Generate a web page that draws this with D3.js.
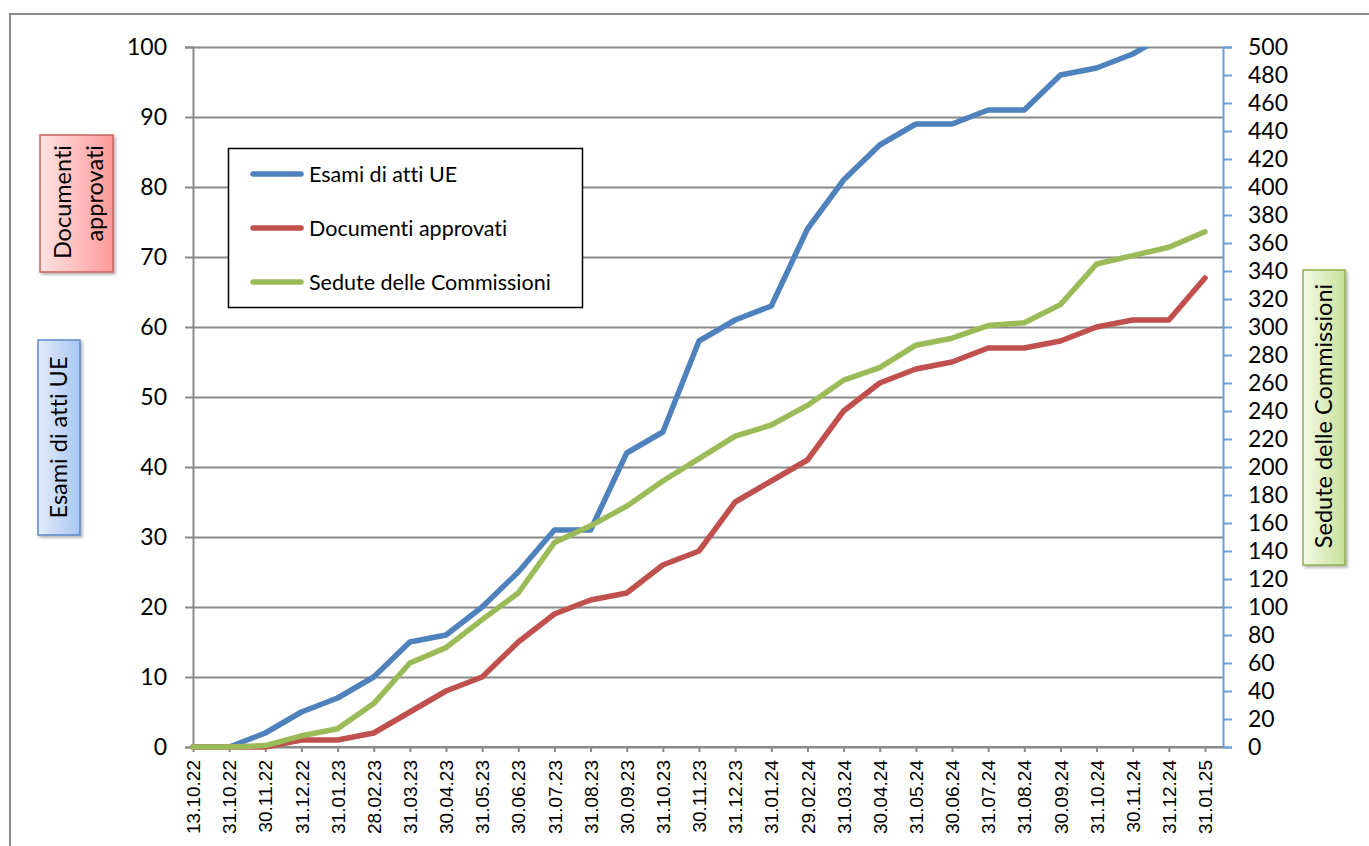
<!DOCTYPE html>
<html>
<head>
<meta charset="utf-8">
<script src="https://cdn.jsdelivr.net/npm/d3@7"></script>
<style>
  html, body { margin: 0; padding: 0; background: #fff; }
  svg { display: block; }
  text { font-variant-ligatures: none; font-feature-settings: "liga" 0; }
</style>
</head>
<body>
<svg id="chart" width="1369" height="846"></svg>
<script>
const categories = ["13.10.22","31.10.22","30.11.22","31.12.22","31.01.23","28.02.23","31.03.23","30.04.23","31.05.23","30.06.23","31.07.23","31.08.23","30.09.23","31.10.23","30.11.23","31.12.23","31.01.24","29.02.24","31.03.24","30.04.24","31.05.24","30.06.24","31.07.24","31.08.24","30.09.24","31.10.24","30.11.24","31.12.24","31.01.25"];
const esami     = [0,0,2,5,7,10,15,16,20,25,31,31,42,45,58,61,63,74,81,86,89,89,91,91,96,97,99,102,104];
const documenti = [0,0,0,1,1,2,5,8,10,15,19,21,22,26,28,35,38,41,48,52,54,55,57,57,58,60,61,61,67];
const sedute    = [0,0,1,8,13,31,60,71,91,110,146,158,172,190,206,222,230,244,262,271,287,292,301,303,316,345,351,357,368];
const leftTicks  = [0,10,20,30,40,50,60,70,80,90,100];
const rightTicks = [0,20,40,60,80,100,120,140,160,180,200,220,240,260,280,300,320,340,360,380,400,420,440,460,480,500];
const seriesNames = ["Esami di atti UE","Documenti approvati","Sedute delle Commissioni"];

const svg = d3.select("#chart");
const plotL = 193, plotR = 1223, plotT = 47, plotB = 747;
const colBlue = "#4F81BD", colRed = "#C0504D", colGreen = "#9BBB59";
const gridCol = "#898989";
const sansCal = "Lato, 'Open Sans', sans-serif";
const sansArial = "'Liberation Sans', Arial, sans-serif";

const x = d3.scalePoint().domain(categories).range([plotL, 1205]);
const yL = d3.scaleLinear().domain([0, 100]).range([plotB, plotT]);
const yR = d3.scaleLinear().domain([0, 500]).range([plotB, plotT]);

// defs
const defs = svg.append("defs");
defs.append("clipPath").attr("id", "plotclip")
  .append("rect").attr("x", plotL - 5).attr("y", plotT).attr("width", plotR - plotL + 10).attr("height", plotB - plotT + 6);
function grad(id, c1, c2) {
  const g = defs.append("linearGradient").attr("id", id).attr("x1", "0%").attr("x2", "100%").attr("y1", "0%").attr("y2", "0%");
  g.append("stop").attr("offset", "0%").attr("stop-color", c1);
  g.append("stop").attr("offset", "100%").attr("stop-color", c2);
}
grad("gRed", "#FFE3E3", "#FF9A9A");
grad("gBlue", "#E2ECFB", "#A9C6F2");
grad("gGreen", "#F3F9E6", "#C9E29A");
const f = defs.append("filter").attr("id", "shadow").attr("x", "-20%").attr("y", "-20%").attr("width", "150%").attr("height", "150%");
f.append("feDropShadow").attr("dx", 2).attr("dy", 2).attr("stdDeviation", 1.5).attr("flood-color", "#000").attr("flood-opacity", 0.3);

// outer frame
svg.append("rect").attr("x", 10).attr("y", 14).attr("width", 1400).attr("height", 900)
  .attr("fill", "none").attr("stroke", "#8c8c8c").attr("stroke-width", 2);

// gridlines
const grid = svg.append("g").attr("class", "grid")
  .attr("transform", `translate(${plotL},0)`)
  .call(d3.axisRight(yL).tickValues(leftTicks).tickSize(plotR - plotL).tickFormat(""));
grid.select(".domain").remove();
grid.selectAll("line").attr("stroke", gridCol).attr("stroke-width", 2);

// left axis
const axL = svg.append("g").attr("transform", `translate(${plotL},0)`)
  .call(d3.axisLeft(yL).tickValues(leftTicks).tickSize(8).tickPadding(18));
axL.select(".domain").attr("stroke", gridCol).attr("stroke-width", 2);
axL.selectAll("line").attr("stroke", gridCol).attr("stroke-width", 2);
axL.selectAll("text").attr("font-family", sansCal).attr("font-size", 23).attr("fill", "#000");

// right axis
const axR = svg.append("g").attr("transform", `translate(${plotR},0)`)
  .call(d3.axisRight(yR).tickValues(rightTicks).tickSize(9).tickPadding(16));
axR.select(".domain").attr("stroke", "#6A9EDB").attr("stroke-width", 2);
axR.selectAll("line").attr("stroke", "#6A9EDB").attr("stroke-width", 2);
axR.selectAll("text").attr("font-family", sansCal).attr("font-size", 23).attr("fill", "#000");

// bottom axis
const axB = svg.append("g").attr("transform", `translate(0,${plotB})`)
  .call(d3.axisBottom(x).tickSize(5).tickPadding(0));
axB.select(".domain").remove();
axB.selectAll("line").attr("stroke", gridCol).attr("stroke-width", 2);
axB.selectAll("text")
  .attr("font-family", sansArial).attr("font-size", 19).attr("fill", "#000")
  .attr("text-anchor", "end")
  .attr("transform", "translate(0,13) rotate(-90)")
  .attr("dy", "0.35em").attr("x", 0).attr("y", 0);
svg.append("line").attr("x1", plotL).attr("x2", plotR).attr("y1", plotB).attr("y2", plotB)
  .attr("stroke", gridCol).attr("stroke-width", 2);

// lines
const lines = svg.append("g").attr("clip-path", "url(#plotclip)");
const lineL = d3.line().x((d, i) => x(categories[i])).y(d => yL(d));
const lineR = d3.line().x((d, i) => x(categories[i])).y(d => yR(d));
lines.append("path").datum(esami).attr("d", lineL).attr("fill", "none").attr("stroke", colBlue)
  .attr("stroke-width", 5.5).attr("stroke-linejoin", "round").attr("stroke-linecap", "round");
lines.append("path").datum(documenti).attr("d", lineL).attr("fill", "none").attr("stroke", colRed)
  .attr("stroke-width", 5.5).attr("stroke-linejoin", "round").attr("stroke-linecap", "round");
lines.append("path").datum(sedute).attr("d", lineR).attr("fill", "none").attr("stroke", colGreen)
  .attr("stroke-width", 5.5).attr("stroke-linejoin", "round").attr("stroke-linecap", "round");

// legend
const lg = svg.append("g");
lg.append("rect").attr("x", 228.5).attr("y", 148.5).attr("width", 354).attr("height", 159)
  .attr("fill", "#fff").attr("stroke", "#000").attr("stroke-width", 1.5);
const legCols = [colBlue, colRed, colGreen];
const legY = [174, 228, 282];
seriesNames.forEach((n, i) => {
  lg.append("line").attr("x1", 253).attr("x2", 301).attr("y1", legY[i]).attr("y2", legY[i])
    .attr("stroke", legCols[i]).attr("stroke-width", 5.5).attr("stroke-linecap", "round");
  lg.append("text").attr("x", 309).attr("y", legY[i]).attr("dy", "0.35em")
    .attr("font-family", sansCal).attr("font-size", 21.5).attr("fill", "#000").text(n);
});

// side label boxes
function sideBox(x0, y0, w, h, fillId, stroke, linesTxt, anchor, tx) {
  const g = svg.append("g");
  g.append("rect").attr("x", x0).attr("y", y0).attr("width", w).attr("height", h)
    .attr("fill", `url(#${fillId})`).attr("stroke", stroke).attr("stroke-width", 1.5)
    .attr("filter", "url(#shadow)");
  linesTxt.forEach((t, i) => {
    g.append("text")
      .attr("transform", `translate(${tx[i]},${anchor.y}) rotate(-90)`)
      .attr("text-anchor", anchor.a).attr("dy", "0.35em")
      .attr("font-family", sansCal).attr("font-size", 23.5).attr("fill", "#000").text(t);
  });
}
sideBox(40, 135, 73, 137, "gRed", "#C9605C", ["Documenti", "approvati"], {y: 145, a: "end"}, [63, 95]);
sideBox(38, 340, 42, 195, "gBlue", "#5A8AC6", ["Esami di atti UE"], {y: 437.5, a: "middle"}, [59]);
sideBox(1303, 270, 42, 295, "gGreen", "#8FB04C", ["Sedute delle Commissioni"], {y: 416, a: "middle"}, [1324]);
</script>
</body>
</html>
